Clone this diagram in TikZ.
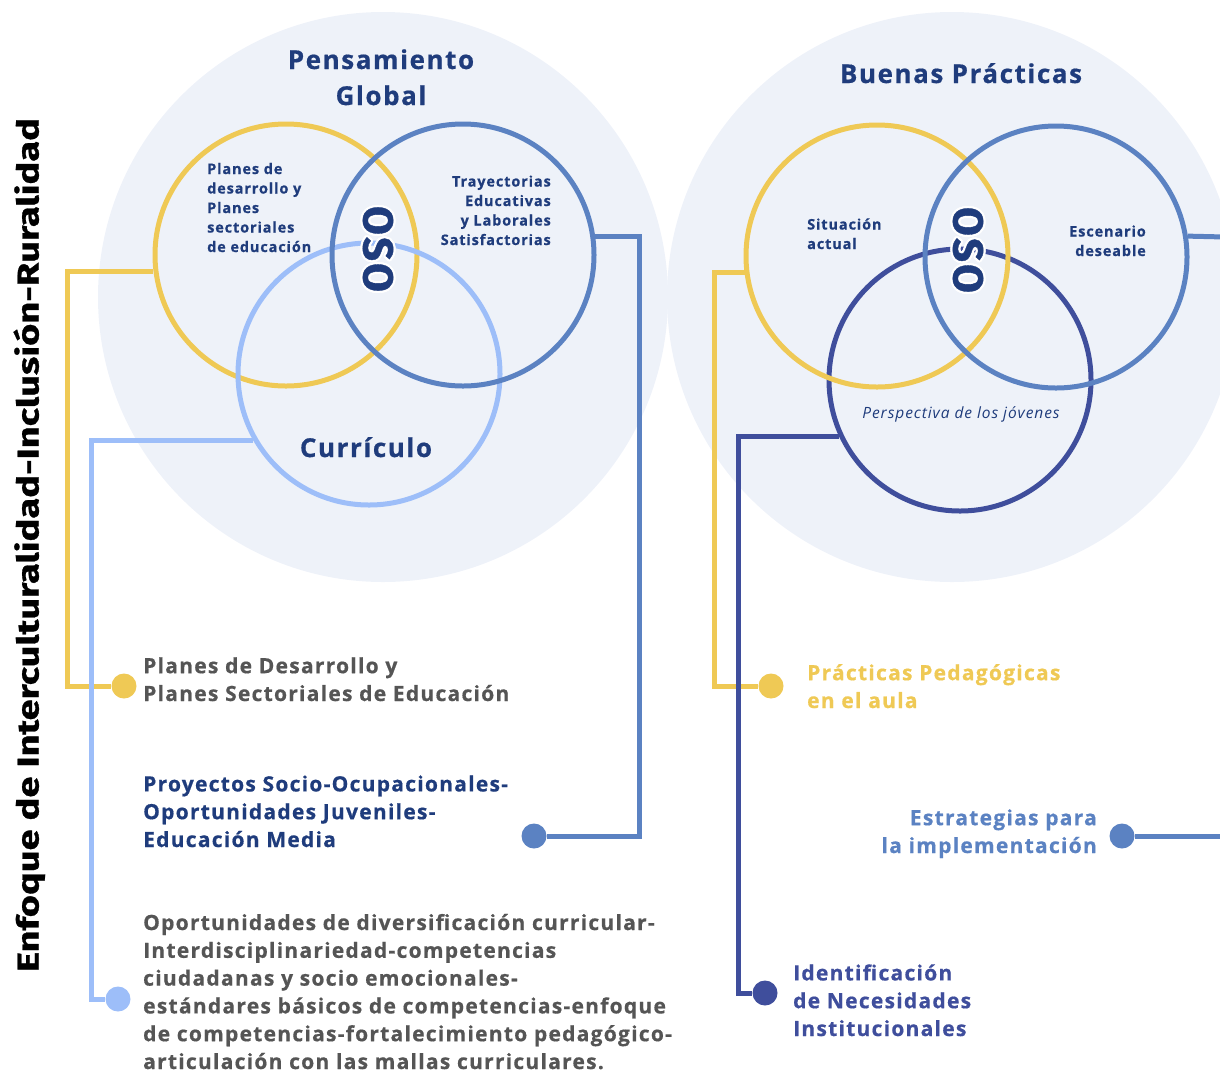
\documentclass[tikz,border=0pt]{standalone}
\usepackage{fontspec}
\setmainfont{Open Sans}[LetterSpace=6, BoldFeatures={FakeBold=0.6}]
\newfontfamily\fira{Fira Sans}[BoldFeatures={FakeBold=0.8}]
\usetikzlibrary{positioning}
\definecolor{ocre}{HTML}{EFC955}
\definecolor{azul}{HTML}{5B82C2}
\definecolor{celeste}{HTML}{9DBEF9}
\definecolor{indigo}{HTML}{3F4E9C}
\definecolor{marino}{HTML}{1F3C7C}
\definecolor{fondo}{HTML}{EEF2F9}
\definecolor{gris}{HTML}{555555}
\begin{document}
\begin{tikzpicture}[x=1pt, y=-1pt,
  disco/.style={circle, fill=fondo, minimum size=570pt, inner sep=0pt},
  anillo/.style={circle, draw=#1, line width=5pt, minimum size=262pt, inner sep=0pt},
  punto/.style={circle, fill=#1, minimum size=25pt, inner sep=0pt},
  enlace/.style={draw=#1, line width=5pt},
  titulo/.style={font=\bfseries\fontsize{26}{36}\selectfont, text=marino, align=center, inner sep=0pt},
  rotulo/.style={font=\bfseries\fontsize{14.5}{19.5}\selectfont, text=marino, inner sep=0pt},
  texto/.style={font=\bfseries\fontsize{21}{27.8}\selectfont, align=left, inner sep=0pt},
  oso/.style={font=\fira\bfseries\fontsize{42}{42}\selectfont, text=marino, rotate=-90, inner sep=0pt}]
\useasboundingbox (0,0) rectangle (1220,1072);
\clip (0,0) rectangle (1220,1072);
% fondos
\node[disco] (fondoL) at (383,297) {};
\node[disco] (fondoR) at (952,297) {};
% circulos izquierda
\node[anillo=ocre] (ycL) at (286,255) {};
\node[anillo=celeste] (lcL) at (369,374) {};
\node[anillo=azul] (bcL) at (463,255) {};
% circulos derecha
\node[anillo=indigo] (icR) at (960,380) {};
\node[anillo=ocre] (ycR) at (877,256) {};
\node[anillo=azul] (bcR) at (1056,257) {};
% OSO
\foreach \a in {0,30,...,330}{
  \node[oso, text=white, shift={(\a:2.2pt)}] at (378,249) {O\hspace{2pt}S\hspace{2pt}O};
  \node[oso, text=white, shift={(\a:2.2pt)}] at (968,250) {O\hspace{2pt}S\hspace{2pt}O};
}
\node[oso] (osoL) at (378,249) {O\hspace{2pt}S\hspace{2pt}O};
\node[oso] (osoR) at (968,250) {O\hspace{2pt}S\hspace{2pt}O};
% titulos
\node[titulo, anchor=base] (pensT) at (381,105) {Pensamiento\\Global};
\node[titulo, anchor=base] (buenT) at (961,83) {Buenas Prácticas};
\node[titulo, anchor=base] (curT) at (366,457) {Currículo};
% rotulos
\node[rotulo, align=left, anchor=base west] (planesR) at (207,252) {Planes de\\desarrollo y\\Planes\\sectoriales\\de educación};
\node[rotulo, align=right, anchor=base east] (trayR) at (551,245) {Trayectorias\\Educativas\\y Laborales\\Satisfactorias};
\node[rotulo, align=left, anchor=base west] (sitR) at (807,249) {Situación\\actual};
\node[rotulo, align=right, anchor=base east] (escR) at (1146,256) {Escenario\\deseable};
\node[inner sep=0pt, text=marino, font=\itshape\fontsize{15.5}{18}\selectfont, anchor=base] (perR) at (961,418) {Perspectiva de los jóvenes};
% puntos
\node[punto=ocre] (dotA) at (124,686) {};
\node[punto=azul] (dotB) at (534,836) {};
\node[punto=celeste] (dotC) at (118,999) {};
\node[punto=ocre] (dotD) at (771,686) {};
\node[punto=azul] (dotE) at (1122,836) {};
\node[punto=indigo] (dotF) at (765,993) {};
\coordinate (exitA) at (1225,237);
\coordinate (exitB) at (1225,836);
% enlaces
\draw[enlace=ocre] (ycL.187) -- ++(-86,0) |- (dotA);
\draw[enlace=celeste] (lcL.210) -- ++(-162,0) |- (dotC);
\draw[enlace=azul] (bcL.8) -- ++(44,0) |- (dotB);
\draw[enlace=ocre] (ycR.187) -- ++(-30,0) |- (dotD);
\draw[enlace=indigo] (icR.205) -- ++(-101,0) |- (dotF);
\draw[enlace=azul] (bcR.9) -- (exitA);
\draw[enlace=azul] (dotE) -- (exitB);
% textos
\node[texto, text=gris, anchor=base west] (planesT) at (143,701) {Planes de Desarrollo y\\Planes Sectoriales de Educación};
\node[texto, text=marino, anchor=base west] (proyT) at (143,847) {Proyectos Socio-Ocupacionales-\\Oportunidades Juveniles-\\Educación Media};
\node[texto, text=gris, anchor=base west] (oporT) at (143,1069) {Oportunidades de diversificación curricular-\\Interdisciplinariedad-competencias\\ciudadanas y socio emocionales-\\estándares básicos de competencias-enfoque\\de competencias-fortalecimiento pedagógico-\\articulación con las mallas curriculares.};
\node[texto, text=ocre, anchor=base west] (pracT) at (807,708) {Prácticas Pedagógicas\\en el aula};
\node[texto, text=azul, align=right, anchor=base east] (estrT) at (1097,853) {Estrategias para\\la implementación};
\node[texto, text=indigo, anchor=base west] (identT) at (793,1036) {Identificación\\de Necesidades\\Institucionales};
% eje vertical
\node[rotate=90, anchor=base, inner sep=0pt] (enfoqueT) at (38.5,545) {\resizebox{854pt}{25pt}{\fira\bfseries Enfoque de Interculturalidad-Inclusión-Ruralidad}};
\end{tikzpicture}
\end{document}
